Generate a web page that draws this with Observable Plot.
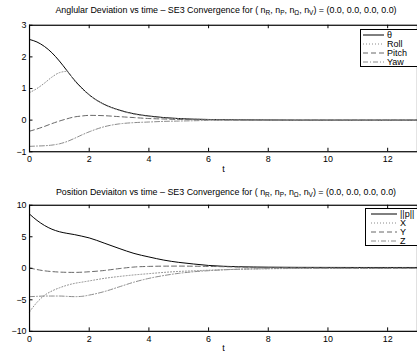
<!DOCTYPE html>
<html><head><meta charset="utf-8">
<script src="https://cdn.jsdelivr.net/npm/d3@7"></script>
<script src="https://cdn.jsdelivr.net/npm/@observablehq/plot@0.6"></script>
<style>
html,body{margin:0;padding:0;background:#fff;}
#wrap{position:relative;width:417px;height:356px;overflow:hidden;font-family:"Liberation Sans",Arial,sans-serif;}
.ttl{position:absolute;left:0;width:452px;text-align:center;font-size:8.9px;color:#000;white-space:nowrap;}
.ttl sub{font-size:6.5px;vertical-align:-2px;line-height:0;}
.plot{position:absolute;left:0;}
.leg{position:absolute;background:#fff;border:1px solid #000;box-sizing:border-box;}
.leg svg{display:block;}
</style></head>
<body><div id="wrap"></div>
<script>
const t = [0,0.25,0.5,0.75,1,1.25,1.5,1.75,2,2.5,3,3.5,4,4.5,5,5.5,6,7,8,9,10,11,12,13];
const theta = [2.55,2.47,2.33,2.13,1.87,1.57,1.27,1.02,0.80,0.50,0.32,0.20,0.13,0.08,0.05,0.03,0.02,0.01,0.005,0,0,0,0,0];
const roll  = [0.87,1.00,1.17,1.36,1.50,1.54,1.25,1.00,0.79,0.49,0.31,0.19,0.12,0.07,0.04,0.03,0.02,0.01,0,0,0,0,0,0];
const pitch = [-0.35,-0.28,-0.20,-0.11,-0.03,0.04,0.10,0.13,0.15,0.14,0.11,0.08,0.05,0.035,0.02,0.015,0.01,0.005,0,0,0,0,0,0];
const yaw   = [-0.83,-0.82,-0.81,-0.79,-0.75,-0.68,-0.58,-0.47,-0.37,-0.21,-0.12,-0.08,-0.06,-0.04,-0.03,-0.02,-0.01,-0.005,0,0,0,0,0,0];

const pNorm = [8.6,7.6,6.8,6.2,5.8,5.55,5.35,5.1,4.82,4.0,3.15,2.36,1.8,1.3,0.94,0.68,0.45,0.25,0.18,0.15,0.14,0.13,0.13,0.13];
const posX  = [-6.9,-5.4,-4.3,-3.6,-3.1,-2.7,-2.4,-2.2,-2.0,-1.6,-1.3,-1.05,-0.85,-0.65,-0.5,-0.4,-0.3,-0.15,-0.07,-0.03,0,0,0,0];
const posY  = [0.05,-0.2,-0.4,-0.52,-0.6,-0.64,-0.65,-0.62,-0.55,-0.35,-0.05,0.2,0.3,0.34,0.35,0.33,0.3,0.2,0.12,0.08,0.05,0.03,0.02,0.02];
const posZ  = [-4.5,-4.45,-4.4,-4.4,-4.4,-4.45,-4.5,-4.45,-4.25,-3.7,-2.95,-2.2,-1.6,-1.15,-0.8,-0.55,-0.38,-0.15,-0.05,0,0,0,0,0];

const xTicks = [0,2,4,6,8,10,12];
const yTicksTop = [-1,0,1,2,3];
const yTicksBot = [-10,-5,0,5,10];
const topNames = ["θ","Roll","Pitch","Yaw"];
const botNames = ["||p||","X","Y","Z"];

const styles = [
  {stroke:"#000", dash:null},
  {stroke:"#8a8a8a", dash:"1,2"},
  {stroke:"#666", dash:"5,3"},
  {stroke:"#8a8a8a", dash:"5,2,1,2"}
];

const wrap = document.getElementById("wrap");

function makePlot(series, names, yDom, yTicks, top, height, mTop, mBot, titleTop, titleText, legPos){
  const W = 421, mL = 29.3;
  const innerH = height - mTop - mBot;
  const marks = [];
  series.forEach((vals, i) => {
    const rows = t.map((tt, j) => ({t: tt, v: vals[j]}));
    marks.push(Plot.line(rows, {x:"t", y:"v", stroke: styles[i].stroke, strokeWidth: 1, strokeDasharray: styles[i].dash, curve:"monotone-x"}));
  });
  marks.push(Plot.frame({stroke:"#000", strokeWidth:1.2}));
  marks.push(Plot.tickX(xTicks, {x: d=>d, insetTop: innerH-3.5, stroke:"#000"}));
  marks.push(Plot.tickX(xTicks, {x: d=>d, insetBottom: innerH-3.5, stroke:"#000"}));
  marks.push(Plot.tickY(yTicks, {y: d=>d, insetRight: (W-mL)-3.5, stroke:"#000"}));
  marks.push(Plot.axisX(xTicks, {tickSize:0, tickPadding:4, fontSize:9, label:"t", labelAnchor:"center", labelArrow:"none", labelOffset:20}));
  marks.push(Plot.axisY(yTicks, {tickSize:0, tickPadding:3, fontSize:9, label:null}));
  const p = Plot.plot({
    width: W, height, marginLeft: mL, marginRight: 0, marginTop: mTop, marginBottom: mBot,
    style:{fontFamily:'"Liberation Sans", Arial, sans-serif', fontSize:"9px", color:"#000", background:"transparent", overflow:"visible"},
    x:{domain:[0,13]}, y:{domain:yDom},
    marks
  });
  p.classList.add("plot");
  p.style.top = top + "px";
  wrap.appendChild(p);

  const tt = document.createElement("div");
  tt.className = "ttl";
  tt.style.top = titleTop + "px";
  tt.innerHTML = titleText;
  wrap.appendChild(tt);

  const leg = document.createElement("div");
  leg.className = "leg";
  Object.assign(leg.style, {left: legPos.x+"px", top: legPos.y+"px", width: legPos.w+"px", height: legPos.h+"px"});
  const ns = "http://www.w3.org/2000/svg";
  const s = document.createElementNS(ns, "svg");
  s.setAttribute("width", legPos.w-2); s.setAttribute("height", legPos.h-2);
  names.forEach((n, i) => {
    const y = 5 + i*9;
    const l = document.createElementNS(ns, "line");
    l.setAttribute("x1", legPos.lx1); l.setAttribute("x2", legPos.lx2);
    l.setAttribute("y1", y); l.setAttribute("y2", y);
    l.setAttribute("stroke", styles[i].stroke);
    if (styles[i].dash) l.setAttribute("stroke-dasharray", styles[i].dash);
    s.appendChild(l);
    const tx = document.createElementNS(ns, "text");
    tx.setAttribute("x", legPos.tx); tx.setAttribute("y", y);
    tx.setAttribute("dy", "0.35em");
    tx.setAttribute("font-size", "9"); tx.setAttribute("font-family", '"Liberation Sans", Arial, sans-serif');
    tx.textContent = n;
    s.appendChild(tx);
  });
  leg.appendChild(s);
  wrap.appendChild(leg);
}

const sub = "( n<sub>R</sub>, n<sub>P</sub>, n<sub>Ω</sub>, n<sub>V</sub>) = (0.0, 0.0, 0.0, 0.0)";
makePlot([theta, roll, pitch, yaw], topNames, [-1,3], yTicksTop, 0, 180, 25, 27.3, 5,
  "Anglular Deviation vs time – SE3 Convergence for " + sub,
  {x:360, y:29, w:58, h:38, lx1:2, lx2:23, tx:26});
makePlot([pNorm, posX, posY, posZ], botNames, [-10,10], yTicksBot, 180, 176, 25, 23.7, 187,
  "Position Deviaiton vs time – SE3 Convergence for " + sub,
  {x:365, y:208, w:54, h:38, lx1:5, lx2:31, tx:34});
</script></body></html>
